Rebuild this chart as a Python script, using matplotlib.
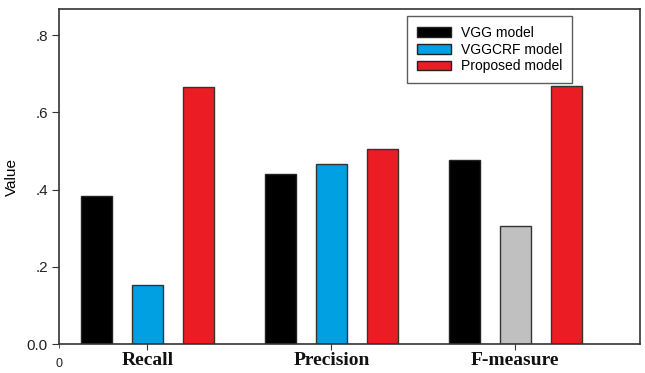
import numpy as np
import matplotlib.pyplot as plt
from matplotlib.patches import Patch

plt.rcParams['font.family'] = ['Liberation Sans', 'DejaVu Sans']

categories = ["Recall", "Precision", "F-measure"]
models = ["VGG model", "VGGCRF model", "Proposed model"]
vgg = [0.383, 0.440, 0.477]
vggcrf = [0.154, 0.466, 0.307]
proposed = [0.665, 0.505, 0.668]

col_vgg = "#000000"
col_crf = "#00a0e3"
col_prop = "#ec1c24"
col_gray = "#c0c0c0"   # the F-measure VGGCRF bar is gray in the original

fig = plt.figure(figsize=(6.45, 3.73), dpi=100)
ax = fig.add_axes([0.0915, 0.0777, 0.9005, 0.8982])

x = np.arange(len(categories))
w = 0.17
off = 0.277
ax.bar(x - off, vgg, w, color=col_vgg, edgecolor="#222222", linewidth=1)
crf_colors = [col_crf, col_crf, col_gray]
ax.bar(x, vggcrf, w, color=crf_colors, edgecolor="#333333", linewidth=1)
ax.bar(x + off, proposed, w, color=col_prop, edgecolor="#333333", linewidth=1)

ax.set_xlim(-0.481, 2.677)
ax.set_ylim(0, 0.868)

ax.set_yticks([0, 0.2, 0.4, 0.6, 0.8])
ax.set_yticklabels(["0.0", ".2", ".4", ".6", ".8"])
ax.tick_params(axis="y", direction="out", length=5, labelsize=11, colors="#333333",
               labelcolor="#222222", pad=3)
ax.set_ylabel("Value", fontsize=11, labelpad=6)

ax.set_xticks(x)
ax.set_xticklabels(categories, fontfamily="Liberation Serif", fontweight="bold", fontsize=14)
ax.tick_params(axis="x", which="major", direction="out", length=4, pad=2, colors="#333333",
               labelcolor="#111111")
ax.set_xticks([-0.481], minor=True)
ax.set_xticklabels(["0"], minor=True, fontsize=9)
ax.tick_params(axis="x", which="minor", direction="out", length=3, pad=7, colors="#333333",
               labelcolor="#222222")

for s in ax.spines.values():
    s.set_color("#333333")
    s.set_linewidth(1.2)

handles = [Patch(facecolor=c, edgecolor="#222222", linewidth=1) for c in [col_vgg, col_crf, col_prop]]
leg = ax.legend(handles, models, loc="upper left", bbox_to_anchor=(0.599, 0.979),
                fontsize=10, frameon=True, fancybox=False, edgecolor="#333333",
                handlelength=2.5, handleheight=0.7, labelspacing=0.2, handletextpad=0.7,
                borderpad=0.7, borderaxespad=0)
leg.get_frame().set_linewidth(1)

fig.savefig("out.png", dpi=100)
